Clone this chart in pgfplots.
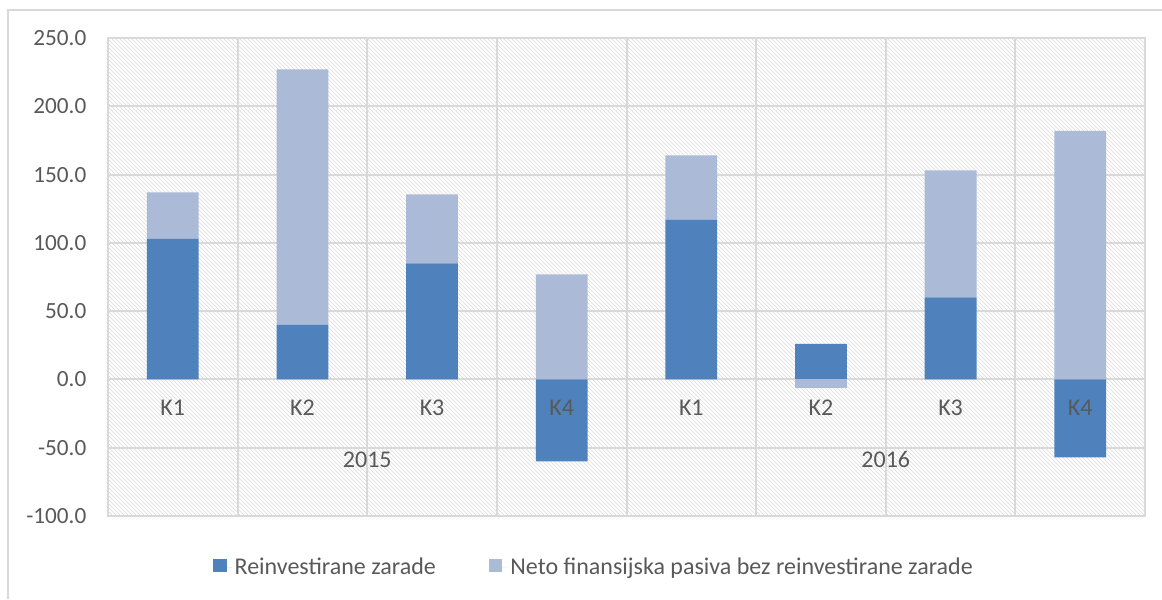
\documentclass[border=0pt]{standalone}
\usepackage{pgfplots}
\pgfplotsset{compat=1.18}
\usepackage{pgfplotstable}
\usepackage{fontspec}
\setmainfont{Carlito}
\usetikzlibrary{patterns}
\definecolor{darkb}{HTML}{4F81BD}
\definecolor{lightb}{HTML}{AABAD7}
\definecolor{txt}{HTML}{595959}
\definecolor{grd}{HTML}{D9D9D9}
\newcommand{\fs}{\fontsize{17.4}{20}\selectfont}
\newcommand{\fl}{\fontsize{18}{21}\selectfont}

% x: category index; dpos/dneg: Reinvestirane zarade (positive/negative part)
% lpos/lneg: Neto finansijska pasiva bez reinvestirane zarade
\pgfplotstableread{
x dpos lpos dneg lneg
0 103 34   0   0
1 40  187  0   0
2 85  50.5 0   0
3 0   77  -60  0
4 117 47   0   0
5 26  0    0  -6
6 60  93   0   0
7 0   182 -57  0
}\data

\pgfplotsset{base/.style={
  scale only axis, width=777.75pt, height=358.5pt,
  at={(81pt,62.25pt)}, anchor=south west,
  xmin=-0.5, xmax=7.5, ymin=-100, ymax=250,
  ybar stacked, bar width=0.4,
}}

\begin{document}
\begin{tikzpicture}
\useasboundingbox (0,0) rectangle (871.5pt,449.25pt);
\draw[grd, line width=1pt] (6pt,0) -- (6pt,441.75pt) -- (871.5pt,441.75pt);
\begin{axis}[base,
  axis background/.style={pattern=north west lines, pattern color=grd},
  axis line style={grd, line width=1.5pt},
  xtick={0.5,1.5,...,6.5}, xticklabels={},
  ytick={-100,-50,...,250},
  xmajorgrids, ymajorgrids,
  major grid style={grd, line width=1.5pt},
  major tick length=0pt,
  yticklabel style={font=\fs, text=txt, xshift=-12.75pt,
    /pgf/number format/fixed, /pgf/number format/fixed zerofill,
    /pgf/number format/precision=1, /pgf/number format/assume math mode=true},
  legend style={at={(0.469,-0.107)}, anchor=center, draw=none, fill=none,
    font=\fl, text=txt, legend columns=2,
    /tikz/every even column/.append style={column sep=38pt}},
  legend cell align=left,
  legend image code/.code={\fill[#1,draw=none] (0pt,-4pt) rectangle (10pt,6pt); \path (0pt,0pt) -- (14pt,0pt);},
]
\addplot[fill=darkb, draw=none] table[x=x,y=dpos]{\data};
\addplot[fill=lightb, draw=none] table[x=x,y=lpos]{\data};
\legend{Reinvestirane zarade, Neto finansijska pasiva bez reinvestirane zarade}
\end{axis}
\begin{axis}[base, hide axis]
\addplot[fill=darkb, draw=none] table[x=x,y=dneg]{\data};
\addplot[fill=lightb, draw=none] table[x=x,y=lneg]{\data};
\end{axis}
\begin{axis}[base, hide axis]
\node[font=\fl, text=txt] at (axis cs:0,-20.5) {K1};
\node[font=\fl, text=txt] at (axis cs:1,-20.5) {K2};
\node[font=\fl, text=txt] at (axis cs:2,-20.5) {K3};
\node[font=\fl, text=txt] at (axis cs:3,-20.5) {K4};
\node[font=\fl, text=txt] at (axis cs:4,-20.5) {K1};
\node[font=\fl, text=txt] at (axis cs:5,-20.5) {K2};
\node[font=\fl, text=txt] at (axis cs:6,-20.5) {K3};
\node[font=\fl, text=txt] at (axis cs:7,-20.5) {K4};
\node[font=\fl, text=txt] at (axis cs:1.5,-58.6) {2015};
\node[font=\fl, text=txt] at (axis cs:5.5,-58.6) {2016};
\end{axis}
\end{tikzpicture}
\end{document}
